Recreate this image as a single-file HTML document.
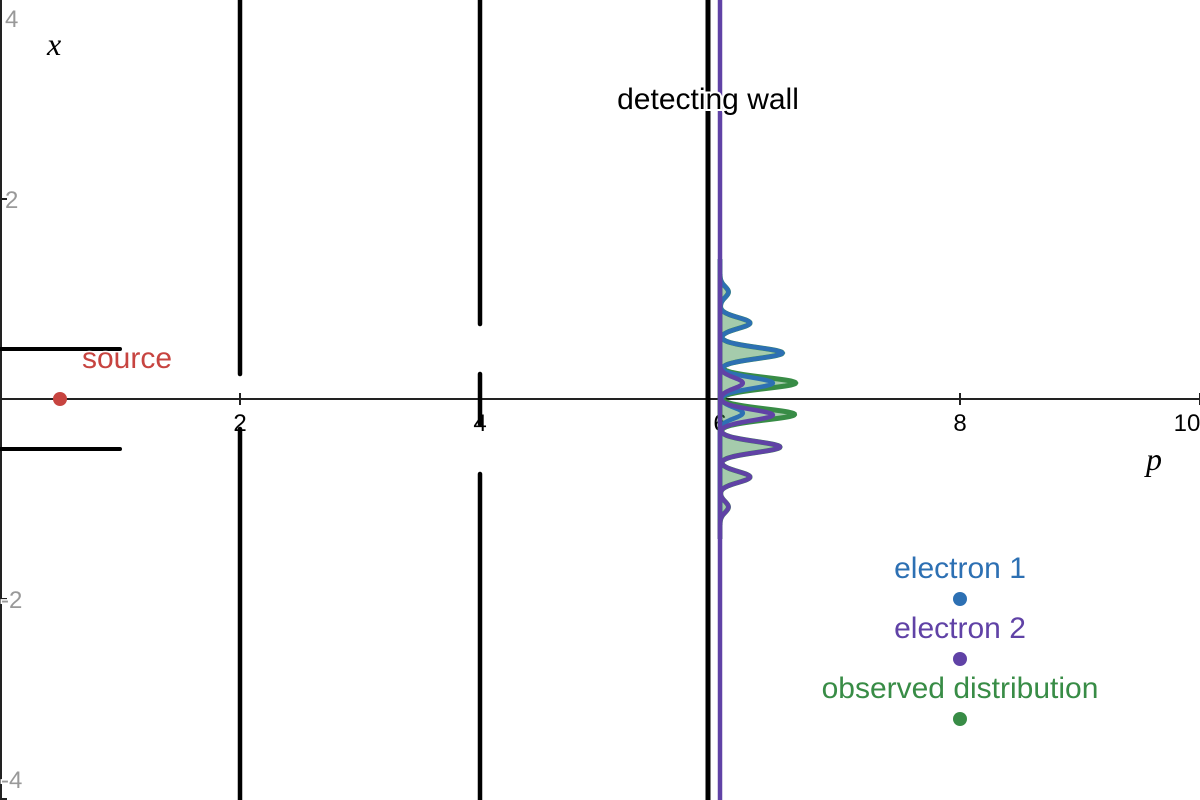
<!DOCTYPE html>
<html><head><meta charset="utf-8"><style>
html,body{margin:0;padding:0;background:#fff;}
svg{display:block;font-family:"Liberation Sans",sans-serif;}
</style></head><body>
<svg id="chart" width="1200" height="800" viewBox="0 0 1200 800" xmlns="http://www.w3.org/2000/svg"></svg>
<script>
const xTicks = [2, 4, 6, 8, 10];
const yTicks = [4, 2, -2, -4];
const bluePeakPos = [1.07, 0.76, 0.46, 0.16, -0.14];
const bluePeakAmp = [0.07, 0.25, 0.52, 0.44, 0.19];
const purplePeakPos = [0.16, -0.16, -0.48, -0.78, -1.08];
const purplePeakAmp = [0.19, 0.44, 0.50, 0.25, 0.07];
const wallPositions = [2, 4];
const sourcePos = [0.5, 0];
const detectP = 6;
const legendLabels = ["electron 1", "electron 2", "observed distribution"];
const legendY = [-2, -2.6, -3.2];

const NS = "http://www.w3.org/2000/svg";
const svg = document.getElementById('chart');
const sx = p => p * 120;
const sy = x => 399 - x * 100;
function mk(tag, attrs, parent) {
  const e = document.createElementNS(NS, tag);
  for (const k in attrs) e.setAttribute(k, attrs[k]);
  (parent || svg).appendChild(e);
  return e;
}
const black = "#000", blue = "#2d70b3", purple = "#6042a6", green = "#388c46", red = "#c74440";

let e = mk('line', {x1: 0, y1: sy(0), x2: 1200, y2: sy(0), stroke: '#222', 'stroke-width': 2});


e = mk('line', {x1: 1, y1: 0, x2: 1, y2: 800, stroke: '#222', 'stroke-width': 2});



xTicks.forEach(t => {
  mk('line', {x1: sx(t), y1: sy(0) - 6, x2: sx(t), y2: sy(0) + 6, stroke: '#222', 'stroke-width': 2});
  const tx = mk('text', {x: t === 10 ? sx(t) - 13 : sx(t), y: sy(0) + 32, 'text-anchor': 'middle', 'font-size': 24, fill: '#000', stroke: '#fff', 'stroke-width': 3, 'paint-order': 'stroke'});
  tx.textContent = t;
  
  
});
yTicks.forEach(t => {
  mk('line', {x1: 0, y1: sy(t), x2: 7, y2: sy(t), stroke: '#222', 'stroke-width': 2});
  let yy = sy(t) + 9;
  if (t === 4) yy = 27;
  if (t === -4) yy = 788;
  const tx = mk('text', {x: t < 0 ? 1 : 5, y: yy, 'font-size': 24, fill: '#999', stroke: '#fff', 'stroke-width': 3, 'paint-order': 'stroke'});
  tx.textContent = t < 0 ? '-' + Math.abs(t) : t;
  
  
});
e = mk('text', {x: 47, y: 55, 'font-size': 32, 'font-style': 'italic', 'font-family': 'Liberation Serif, serif'});
e.textContent = 'x';


e = mk('text', {x: 1146, y: 470, 'font-size': 32, 'font-style': 'italic', 'font-family': 'Liberation Serif, serif'});
e.textContent = 'p';



[0.5, -0.5].forEach(v => {
  const l = mk('line', {x1: 0, y1: sy(v), x2: sx(1), y2: sy(v), stroke: black, 'stroke-width': 4, 'stroke-linecap': 'round'});
  
  
});
const w2 = [[4.2, 0.25], [-0.3, -4.2]];
const w4 = [[4.2, 0.75], [0.25, -0.25], [-0.75, -4.2]];
[w2, w4].forEach((segs, i) => segs.forEach(s => {
  const l = mk('line', {x1: sx(wallPositions[i]), y1: sy(s[0]), x2: sx(wallPositions[i]), y2: sy(s[1]), stroke: black, 'stroke-width': 4.5, 'stroke-linecap': 'round'});
  
  
}));
e = mk('line', {x1: sx(5.9), y1: 0, x2: sx(5.9), y2: 800, stroke: black, 'stroke-width': 5});



const sig = 0.055;
function dens(pos, amp, x) {
  let s = 0;
  for (let i = 0; i < pos.length; i++) s += amp[i] * Math.exp(-((x - pos[i]) ** 2) / (2 * sig * sig));
  return s;
}
function pathFor(fn, lo, hi) {
  let d = '';
  for (let x = hi; x >= lo; x -= 0.005) d += (d ? 'L' : 'M') + sx(detectP + fn(x)).toFixed(1) + ',' + sy(x).toFixed(1);
  return d;
}
const gfn = x => dens(bluePeakPos, bluePeakAmp, x) + dens(purplePeakPos, purplePeakAmp, x);
e = mk('path', {d: pathFor(gfn, -1.4, 1.4) + 'Z', fill: green, 'fill-opacity': 0.45, stroke: green, 'stroke-width': 5});


e = mk('path', {d: pathFor(x => dens(bluePeakPos, bluePeakAmp, x), -1.2, 1.4), fill: 'none', stroke: blue, 'stroke-width': 4.5});


e = mk('line', {x1: sx(detectP), y1: 0, x2: sx(detectP), y2: 800, stroke: purple, 'stroke-width': 4.5});


e = mk('path', {d: pathFor(x => dens(purplePeakPos, purplePeakAmp, x), -1.4, 1.2), fill: 'none', stroke: purple, 'stroke-width': 4.5});



e = mk('text', {x: 708, y: 109, 'text-anchor': 'middle', 'font-size': 30, fill: '#000', stroke: '#fff', 'stroke-width': 4, 'paint-order': 'stroke'});
e.textContent = 'detecting wall';



e = mk('circle', {cx: sx(sourcePos[0]), cy: sy(sourcePos[1]), r: 7, fill: red});


e = mk('text', {x: 82, y: 368, 'font-size': 30, fill: red, stroke: '#fff', 'stroke-width': 3, 'paint-order': 'stroke'});
e.textContent = 'source';



const lc = [blue, purple, green];
legendLabels.forEach((lab, i) => {
  const c = mk('circle', {cx: sx(8), cy: sy(legendY[i]), r: 7, fill: lc[i]});
  
  
  const t = mk('text', {x: sx(8), y: sy(legendY[i]) - 21, 'text-anchor': 'middle', 'font-size': 30, fill: lc[i]});
  t.textContent = lab;
  
  
});
</script>
</body></html>
